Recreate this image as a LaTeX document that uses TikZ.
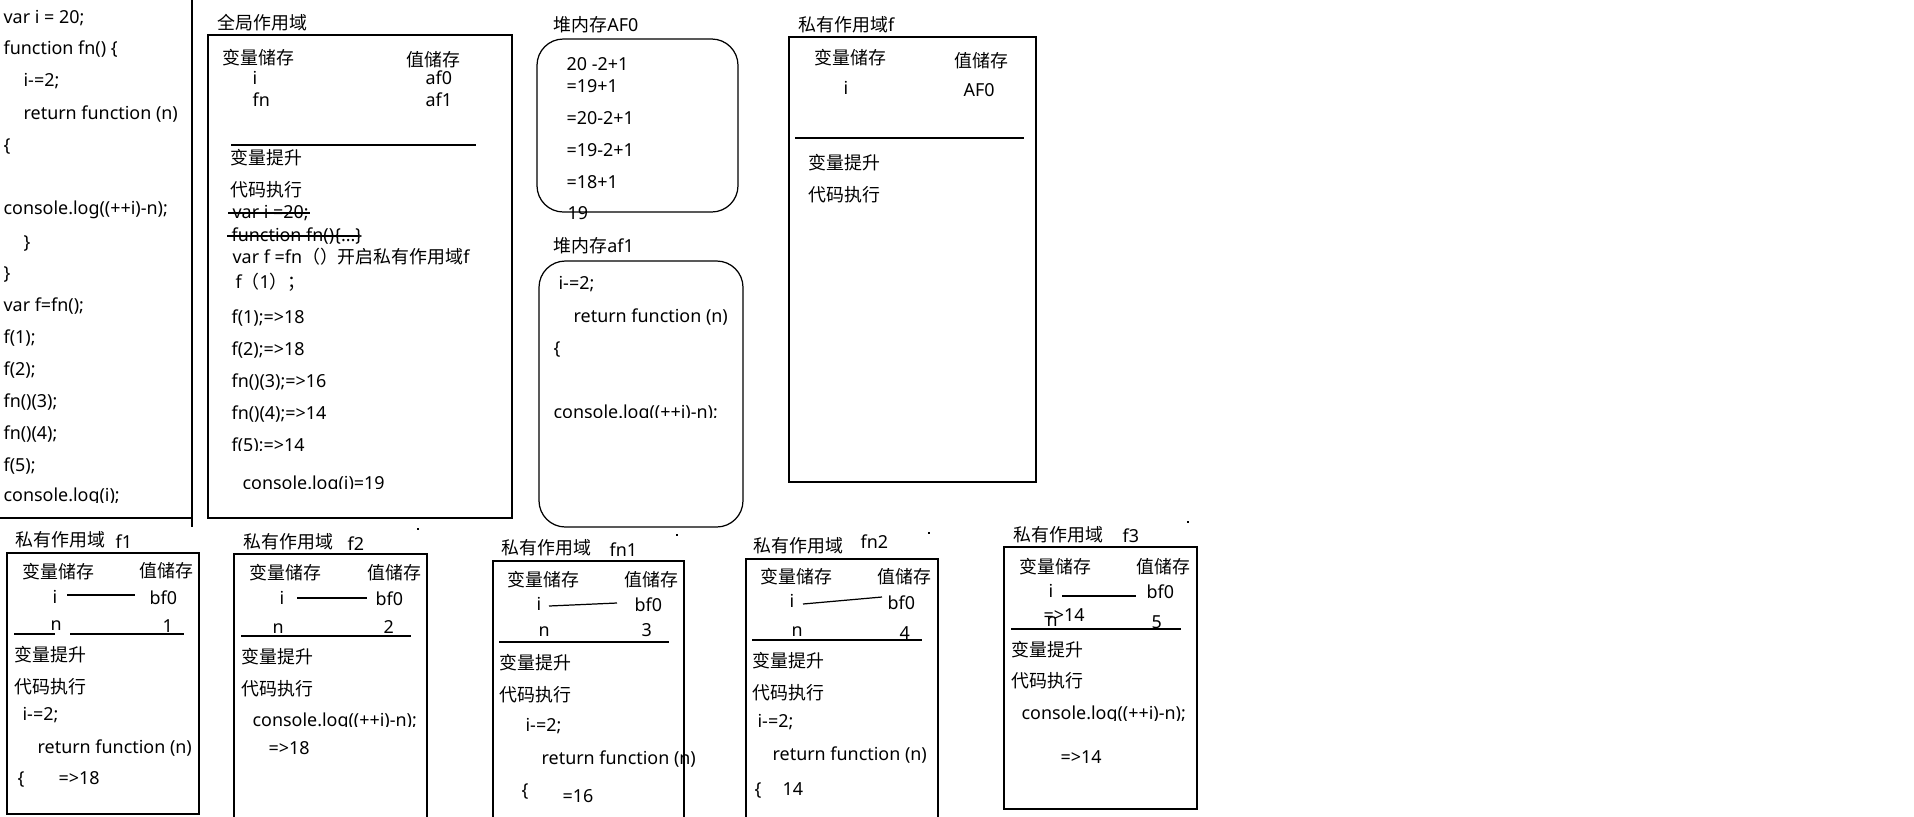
\documentclass[tikz,border=0pt]{standalone}
\usepackage{fontspec}
\setmainfont{Noto Sans}
\newfontfamily\cjk{Noto Sans CJK SC}

\begin{document}
\begin{tikzpicture}[x=0.02cm, y=-0.02cm, line width=0.7pt,
  txt/.style = {anchor=base west, inner sep=0pt, font=\fontsize{10.2pt}{12pt}\selectfont},
  box/.style = {draw},
  heap/.style = {draw, rounded corners=15}]
\useasboundingbox (0,0) rectangle (1914,816);

% code column
\begin{scope}
\clip (0,0) rectangle (190,502);
\node[txt] (c1) at (3,23) {var i = 20;};
\node[txt] (c2) at (3,54) {function fn() \{};
\node[txt] (c3) at (23,86) {i-=2;};
\node[txt] (c4) at (23,119) {return function (n)};
\node[txt] (c5) at (3,151) {\{};
\node[txt] (c6) at (3,214) {console.log((++i)-n);};
\node[txt] (c7) at (23,248) {\}};
\node[txt] (c8) at (3,279) {\}};
\node[txt] (c9) at (3,311) {var f=fn();};
\node[txt] (c10) at (3,343) {f(1);};
\node[txt] (c11) at (3,375) {f(2);};
\node[txt] (c12) at (3,407) {fn()(3);};
\node[txt] (c13) at (3,439) {fn()(4);};
\node[txt] (c14) at (3,471) {f(5);};
\node[txt] (c15) at (3,501) {console.log(i);};
\end{scope}
\draw (192,0) -- (192,527);
\draw (0,518) -- (192,518);

% global scope
\node[txt] (gt) at (217,29) {\cjk 全局作用域};
\draw[box] (208,35) rectangle (512,518);
\node[txt] (g1) at (222,64) {\cjk 变量储存};
\node[txt] (g2) at (406,66) {\cjk 值储存};
\node[txt] (g3) at (252,84) {i};
\node[txt] (g4) at (252,106) {fn};
\node[txt] (g5) at (425,84) {af0};
\node[txt] (g6) at (425,106) {af1};
\draw (231,145) -- (476,145);
\node[txt] (g7) at (230,164) {\cjk 变量提升};
\node[txt] (g8) at (230,196) {\cjk 代码执行};
\node[txt] (g9) at (232,218) {var i =20;};
\draw (228,213) -- (310,213);
\node[txt] (g10) at (231,241) {function fn()\{...\}};
\draw (227,236) -- (359,236);
\node[txt] (g11) at (232,263) {var f =fn{\cjk（）开启私有作用域}f};
\node[txt] (g12) at (235,288) {f{\cjk（}1{\cjk ）；}};
\node[txt] (g13) at (231,323) {f(1);=>18};
\node[txt] (g14) at (231,355) {f(2);=>18};
\node[txt] (g15) at (231,387) {fn()(3);=>16};
\node[txt] (g16) at (231,419) {fn()(4);=>14};
\begin{scope}
\clip (220,430) rectangle (500,450);
\node[txt] (g17) at (231,451) {f(5);=>14};
\end{scope}
\begin{scope}
\clip (220,470) rectangle (500,488);
\node[txt] (g18) at (242,489) {console.log(i)=19};
\end{scope}

% heap AF0
\node[txt] (ht) at (553,31) {{\cjk 堆内存}AF0};
\draw[heap] (537,39) rectangle (738,212);
\node[txt] (h1) at (566,70) {20 -2+1};
\node[txt] (h2) at (566,92) {=19+1};
\node[txt] (h3) at (566,124) {=20-2+1};
\node[txt] (h4) at (566,156) {=19-2+1};
\node[txt] (h5) at (566,188) {=18+1};
\begin{scope}
\clip (555,200) rectangle (620,220);
\node[txt] (h6) at (567,219) {19};
\end{scope}

% heap af1
\node[txt] (kt) at (553,252) {{\cjk 堆内存}af1};
\draw[heap] (539,261) rectangle (743,527);
\node[txt] (k1) at (558,289) {i-=2;};
\node[txt] (k2) at (573,322) {return function (n)};
\node[txt] (k3) at (553,354) {\{};
\begin{scope}
\clip (545,395) rectangle (740,417);
\node[txt] (k4) at (553,418) {console.log((++i)-n);};
\end{scope}

% private scope f
\node[txt] (pt) at (798,31) {{\cjk 私有作用域}f};
\draw[box] (789,37) rectangle (1036,482);
\node[txt] (p1) at (814,64) {\cjk 变量储存};
\node[txt] (p2) at (954,67) {\cjk 值储存};
\node[txt] (p3) at (843,94) {i};
\node[txt] (p4) at (963,96) {AF0};
\draw (795,138) -- (1024,138);
\node[txt] (p5) at (808,169) {\cjk 变量提升};
\node[txt] (p6) at (808,201) {\cjk 代码执行};

% f1
\node[txt] (at) at (15,546) {\cjk 私有作用域};
\node[txt] (an) at (115,548) {f1};
\draw[box] (7,553) rectangle (199,814);
\node[txt] (a1) at (22,578) {\cjk 变量储存};
\node[txt] (a2) at (139,577) {\cjk 值储存};
\node[txt] (a3) at (52,603) {i};
\draw (67,595) -- (135,595);
\node[txt] (a4) at (149,604) {bf0};
\node[txt] (a5) at (50,630) {n};
\node[txt] (a6) at (162,632) {1};
\draw (14,634) -- (55,634);
\draw (70,634) -- (184,634);
\node[txt] (a7) at (14,661) {\cjk 变量提升};
\node[txt] (a8) at (14,693) {\cjk 代码执行};
\node[txt] (a9) at (22,720) {i-=2;};
\node[txt] (a10) at (37,753) {return function (n)};
\node[txt] (a11) at (17,784) {\{};
\node[txt] (a12) at (58,784) {=>18};

% f2
\node[txt] (bt) at (243,548) {\cjk 私有作用域};
\node[txt] (bn) at (347,550) {f2};
\draw[box] (234,554) rectangle (427,830);
\node[txt] (b1) at (249,579) {\cjk 变量储存};
\node[txt] (b2) at (367,579) {\cjk 值储存};
\node[txt] (b3) at (279,604) {i};
\draw (297,598) -- (367,598);
\node[txt] (b4) at (375,605) {bf0};
\node[txt] (b5) at (272,633) {n};
\node[txt] (b6) at (383,633) {2};
\draw (241,636) -- (411,636);
\node[txt] (b7) at (241,663) {\cjk 变量提升};
\node[txt] (b8) at (241,695) {\cjk 代码执行};
\begin{scope}
\clip (245,705) rectangle (430,726);
\node[txt] (b9) at (252,726) {console.log((++i)-n);};
\end{scope}
\node[txt] (b10) at (268,754) {=>18};

% fn1
\node[txt] (dt) at (501,554) {\cjk 私有作用域};
\node[txt] (dn) at (609,556) {fn1};
\draw[box] (493,561) rectangle (684,830);
\node[txt] (d1) at (507,586) {\cjk 变量储存};
\node[txt] (d2) at (624,586) {\cjk 值储存};
\node[txt] (d3) at (536,610) {i};
\draw (549,606) -- (617,603);
\node[txt] (d4) at (634,611) {bf0};
\node[txt] (d5) at (538,636) {n};
\node[txt] (d6) at (641,636) {3};
\draw (499,642) -- (669,642);
\node[txt] (d7) at (499,669) {\cjk 变量提升};
\node[txt] (d8) at (499,701) {\cjk 代码执行};
\node[txt] (d9) at (525,731) {i-=2;};
\node[txt] (d10) at (541,764) {return function (n)};
\node[txt] (d11) at (521,796) {\{};
\node[txt] (d12) at (562,802) {=16};

% fn2
\node[txt] (et) at (753,552) {\cjk 私有作用域};
\node[txt] (en) at (860,548) {fn2};
\draw[box] (746,559) rectangle (938,830);
\node[txt] (e1) at (760,583) {\cjk 变量储存};
\node[txt] (e2) at (877,583) {\cjk 值储存};
\node[txt] (e3) at (789,607) {i};
\draw (803,604) -- (882,597);
\node[txt] (e4) at (887,609) {bf0};
\node[txt] (e5) at (791,636) {n};
\node[txt] (e6) at (899,639) {4};
\draw (752,640) -- (922,640);
\node[txt] (e7) at (752,667) {\cjk 变量提升};
\node[txt] (e8) at (752,699) {\cjk 代码执行};
\node[txt] (e9) at (757,727) {i-=2;};
\node[txt] (e10) at (772,760) {return function (n)};
\node[txt] (e11) at (754,795) {\{};
\node[txt] (e12) at (782,795) {14};

% f3
\node[txt] (ft) at (1013,541) {\cjk 私有作用域};
\node[txt] (fn) at (1122,542) {f3};
\draw[box] (1004,547) rectangle (1197,809);
\node[txt] (f1) at (1019,573) {\cjk 变量储存};
\node[txt] (f2) at (1136,573) {\cjk 值储存};
\node[txt] (f3) at (1048,597) {i};
\draw (1062,596) -- (1136,596);
\node[txt] (f4) at (1146,598) {bf0};
\node[txt] (f5) at (1046,626) {n};
\node[txt] (f6) at (1043,621) {=>14};
\node[txt] (f7) at (1151,628) {5};
\draw (1011,629) -- (1181,629);
\node[txt] (f8) at (1011,656) {\cjk 变量提升};
\node[txt] (f9) at (1011,687) {\cjk 代码执行};
\begin{scope}
\clip (1015,700) rectangle (1200,720);
\node[txt] (f10) at (1021,719) {console.log((++i)-n);};
\end{scope}
\node[txt] (f11) at (1060,763) {=>14};

% stray dots
\fill (417,528) rectangle (419,530);
\fill (676,534) rectangle (678,536);
\fill (928,532) rectangle (930,534);
\fill (1187,521) rectangle (1189,523);
\end{tikzpicture}
\end{document}
